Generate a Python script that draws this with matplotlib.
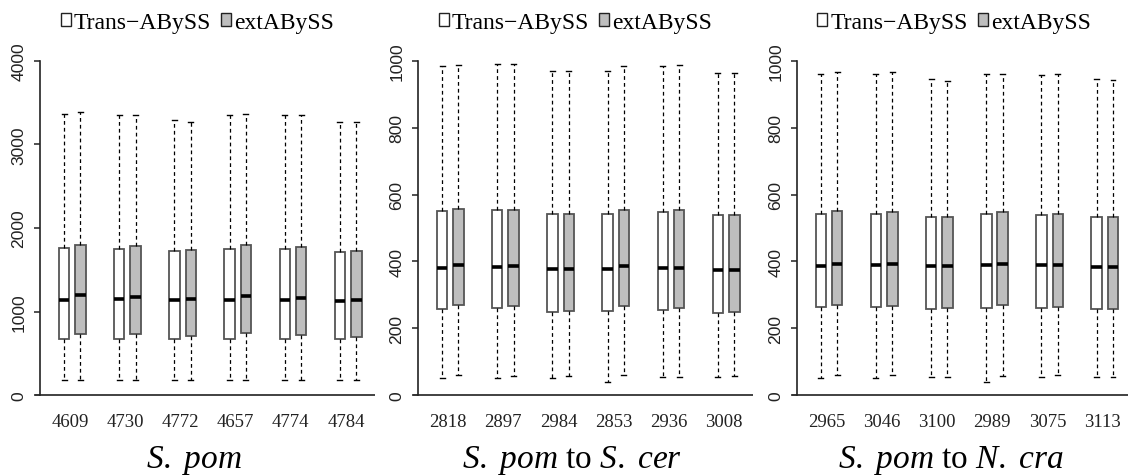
import matplotlib
matplotlib.use("Agg")
import matplotlib.pyplot as plt
from matplotlib.patches import Patch

# five-number summaries per group: [whisker low, Q1, median, Q3, whisker high]
spom_labels = ["4609", "4730", "4772", "4657", "4774", "4784"]
spom_trans = [[186, 674, 1137, 1760, 3363], [186, 674, 1149, 1748, 3355],
              [186, 674, 1137, 1724, 3295], [186, 674, 1137, 1748, 3355],
              [186, 674, 1137, 1748, 3355], [186, 674, 1127, 1712, 3271]]
spom_ext = [[186, 734, 1197, 1796, 3384], [186, 734, 1173, 1784, 3355],
            [186, 710, 1149, 1736, 3271], [186, 746, 1185, 1796, 3363],
            [186, 722, 1163, 1772, 3355], [186, 698, 1137, 1724, 3271]]

scer_labels = ["2818", "2897", "2984", "2853", "2936", "3008"]
scer_trans = [[52, 257, 380, 550, 986], [52, 260, 383, 555, 991],
              [52, 249, 378, 542, 971], [38, 252, 378, 542, 971],
              [55, 255, 381, 547, 986], [54, 246, 375, 539, 965]]
scer_ext = [[59, 269, 388, 558, 989], [56, 266, 385, 555, 991],
            [56, 252, 378, 542, 971], [59, 266, 386, 555, 986],
            [55, 260, 381, 553, 989], [56, 249, 375, 539, 965]]

ncra_labels = ["2965", "3046", "3100", "2989", "3075", "3113"]
ncra_trans = [[52, 264, 386, 542, 961], [52, 264, 389, 542, 961],
              [55, 258, 386, 533, 946], [38, 261, 389, 542, 961],
              [55, 261, 389, 539, 958], [55, 258, 383, 533, 946]]
ncra_ext = [[59, 269, 391, 550, 966], [59, 266, 391, 547, 966],
            [55, 261, 386, 532, 939], [56, 269, 391, 547, 961],
            [59, 264, 389, 542, 961], [55, 258, 383, 532, 942]]

titles = [r"$\mathit{S.\ pom}$",
          r"$\mathit{S.\ pom}\ \mathrm{to}\ \mathit{S.\ cer}$",
          r"$\mathit{S.\ pom}\ \mathrm{to}\ \mathit{N.\ cra}$"]
ymax = [4000, 1000, 1000]
yticks = [[0, 1000, 2000, 3000, 4000], [0, 200, 400, 600, 800, 1000],
          [0, 200, 400, 600, 800, 1000]]

plt.rcParams["mathtext.fontset"] = "custom"
plt.rcParams["mathtext.it"] = "Liberation Serif:italic"
plt.rcParams["mathtext.rm"] = "Liberation Serif"

W, H = 1128, 477


def to_stats(rows):
    return [dict(whislo=r[0], q1=r[1], med=r[2], q3=r[3], whishi=r[4], fliers=[])
            for r in rows]


def draw_boxes(ax, rows, pos, face):
    ax.bxp(to_stats(rows), positions=pos, widths=0.19, capwidths=0.09,
           showfliers=False, patch_artist=True, manage_ticks=False,
           boxprops=dict(facecolor=face, edgecolor="#555555", linewidth=1.3),
           medianprops=dict(color="black", linewidth=2.6, solid_capstyle="butt"),
           whiskerprops=dict(color="black", linewidth=0.9, linestyle=(0, (3, 2.5))),
           capprops=dict(color="black", linewidth=1.0))


fig = plt.figure(figsize=(W / 100, H / 100), dpi=100)
panels = [(spom_labels, spom_trans, spom_ext),
          (scer_labels, scer_trans, scer_ext),
          (ncra_labels, ncra_trans, ncra_ext)]
lefts = [35, 413, 791.7]

for i, (labels, trans, ext) in enumerate(panels):
    ax = fig.add_axes([lefts[i] / W, (H - 409.4) / H, 339.5 / W, 360.8 / H])
    groups = list(range(len(labels)))
    draw_boxes(ax, trans, [g - 0.148 for g in groups], "white")
    draw_boxes(ax, ext, [g + 0.148 for g in groups], "#bebebe")

    pad = ymax[i] * 0.04
    ax.set_ylim(-pad, ymax[i] + pad)
    ax.set_xlim(-0.675, 5.478)
    ax.axhline(0, color="#333333", linewidth=1.3)

    for s in ["top", "right", "bottom"]:
        ax.spines[s].set_visible(False)
    ax.spines["left"].set_position(("axes", 0.016))
    ax.spines["left"].set_bounds(0, ymax[i])
    ax.spines["left"].set_linewidth(1.2)
    ax.spines["left"].set_color("#222222")

    ax.set_yticks(yticks[i])
    ax.tick_params(axis="y", length=4, width=1.1, pad=6, labelsize=12.6,
                   labelcolor="#222222", color="#222222")
    for t in ax.get_yticklabels():
        t.set_rotation(90)
        t.set_va("center")
        t.set_family("Liberation Sans")

    ax.set_xticks([g - 0.04 for g in groups])
    ax.set_xticklabels(labels, family="Liberation Serif", fontsize=13.5, color="#222222")
    ax.tick_params(axis="x", length=0, pad=3)

    ax.text(0.468, -0.1624, titles[i], transform=ax.transAxes, ha="center",
            va="baseline", fontsize=24, family="Liberation Serif")

    handles = [Patch(facecolor="white", edgecolor="#222222", linewidth=1.0),
               Patch(facecolor="#bebebe", edgecolor="#222222", linewidth=1.0)]
    ax.legend(handles, ["Trans\u2212ABySS", "extABySS"], ncol=2, frameon=False,
              loc="center left", bbox_to_anchor=(0.0757, 1.07),
              borderaxespad=0, borderpad=0, handlelength=0.42, handleheight=0.42,
              handletextpad=0.14, columnspacing=0.42,
              prop=dict(family="Liberation Serif", size=17))

fig.savefig("out.png", dpi=100)
